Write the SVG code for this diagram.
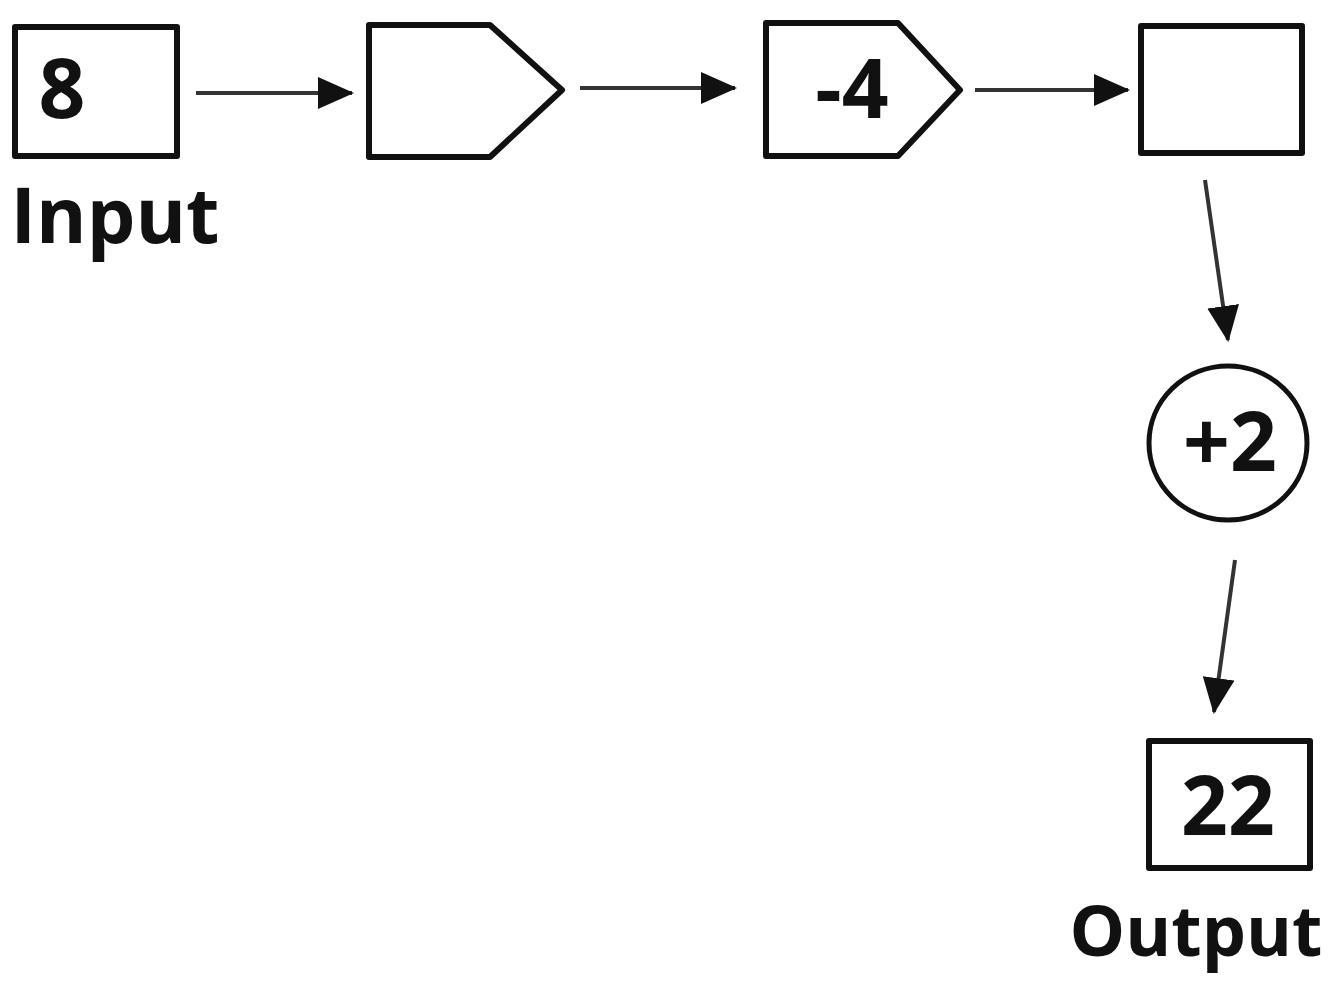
<svg xmlns="http://www.w3.org/2000/svg" width="1338" height="987" viewBox="0 0 1338 987">
<style>
.node{fill:#fff;stroke:#111;stroke-width:6;stroke-linejoin:round}
.lbl{font-family:"Open Sans","Liberation Sans",sans-serif;font-weight:700;fill:#111;text-anchor:middle}
.big{font-size:82px}
.conn{stroke:#333;stroke-width:4;fill:none;marker-end:url(#ah)}
</style>
<defs>
<marker id="ah" viewBox="0 0 36 32" refX="34" refY="16" markerWidth="36" markerHeight="32" orient="auto" markerUnits="userSpaceOnUse">
<path d="M0,0 L36,16 L0,32 Z" fill="#111"/>
</marker>
</defs>
<g id="connectors">
<line class="conn" x1="196" y1="93" x2="352" y2="93"/>
<line class="conn" x1="580" y1="88" x2="735" y2="88"/>
<line class="conn" x1="975" y1="90" x2="1128" y2="90"/>
<line class="conn" x1="1205" y1="180" x2="1228" y2="340"/>
<line class="conn" x1="1235" y1="560" x2="1214" y2="712"/>
</g>
<g id="input">
<rect class="node" x="15" y="27" width="162" height="129"/>
<text class="lbl big" x="62" y="118">8</text>
<text class="lbl" x="115" y="243" style="font-size:77px">Input</text>
</g>
<g id="step1">
<polygon class="node" points="369,25 490,25 562,90 490,157 369,157"/>
</g>
<g id="step2">
<polygon class="node" points="766,23 898,23 960,90 898,156 766,156"/>
<text class="lbl big" x="852" y="118">-4</text>
</g>
<g id="step3">
<rect class="node" x="1141" y="26" width="161" height="127"/>
</g>
<g id="step4">
<ellipse class="node" cx="1228" cy="443" rx="79" ry="77" style="stroke-width:5"/>
<text class="lbl big" x="1230" y="471">+2</text>
</g>
<g id="output">
<rect class="node" x="1149" y="741" width="161" height="127"/>
<text class="lbl big" x="1228" y="835">22</text>
<text class="lbl" x="1196" y="956" style="font-size:70px">Output</text>
</g>
</svg>
